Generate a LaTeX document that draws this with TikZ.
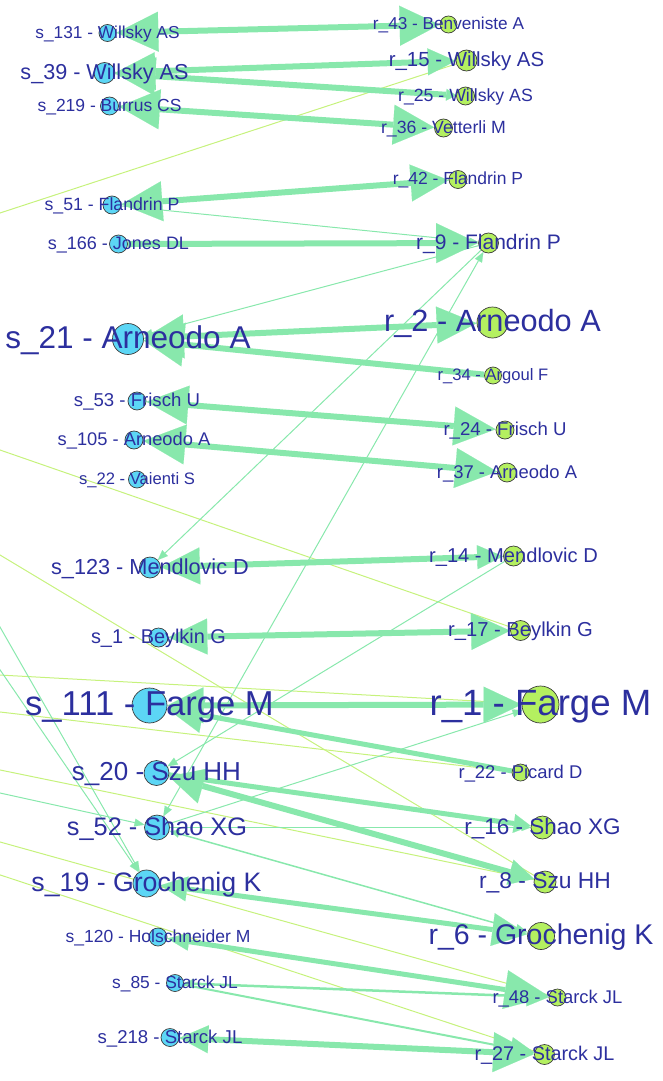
\documentclass[tikz,border=0pt]{standalone}
\usepackage{fontspec}
\setmainfont{Liberation Sans}
\usetikzlibrary{arrows.meta,backgrounds}
\definecolor{sfill}{RGB}{92,214,245}
\definecolor{rfill}{RGB}{180,240,96}
\definecolor{edg}{RGB}{136,232,172}
\definecolor{yel}{RGB}{198,242,124}
\definecolor{txt}{RGB}{44,47,158}
\definecolor{ring}{RGB}{60,60,60}
\tikzset{
  snode/.style={circle, draw=ring, line width=0.7pt, fill=sfill, inner sep=0pt},
  rnode/.style={circle, draw=ring, line width=0.7pt, fill=rfill, inner sep=0pt},
  lbl/.style={text=txt, anchor=base, inner sep=0pt},
  thk/.style={draw=edg, line width=6pt},
  thk5/.style={draw=edg, line width=5pt},
  med/.style={draw=edg, line width=2pt},
  thn/.style={draw=edg, line width=1pt},
  yl/.style={draw=yel, line width=1pt},
  bi/.style n args={4}{arrows={Triangle[length=#1pt,width=#2pt,line width=0.1pt]-Triangle[length=#3pt,width=#4pt,line width=0.1pt]}},
  ae/.style 2 args={arrows={-Triangle[length=#1pt,width=#2pt,line width=0.1pt]}}
}
\newcommand{\snd}[4]{\node[snode, minimum size=#4pt] (#1) at (#2,#3) {};}
\newcommand{\rnd}[4]{\node[rnode, minimum size=#4pt] (#1) at (#2,#3) {};}
\newcommand{\lab}[3]{\node[lbl, font=\fontsize{#2}{#2}\selectfont, yshift={-0.3*#2pt}] (#1l) at (#1) {#3};}
\begin{document}
\begin{tikzpicture}[x=1pt,y=-1pt]
\useasboundingbox (0,0) rectangle (662,1081);
% source nodes
\snd{s131}{107.5}{33}{17}
\snd{s39}{104.5}{73}{21}
\snd{s219}{109.5}{106}{18}
\snd{s51}{112}{205}{18}
\snd{s166}{118.5}{244}{18}
\snd{s21}{128}{339}{31}
\snd{s53}{137}{401}{18}
\snd{s105}{134}{440}{18}
\snd{s22}{137}{479.5}{17}
\snd{s123}{150}{567.5}{21}
\snd{s1}{158.5}{637.5}{19}
\snd{s111}{149.5}{705.5}{35}
\snd{s20}{156.5}{773}{25}
\snd{s52}{157}{827.5}{25}
\snd{s19}{146.5}{883.5}{27}
\snd{s120}{158}{937}{18}
\snd{s85}{175}{983}{17}
\snd{s218}{170}{1037.5}{18}
% reference nodes
\rnd{r43}{448.5}{24.5}{17}
\rnd{r15}{466.5}{60.5}{21}
\rnd{r25}{465.5}{96}{18}
\rnd{r36}{443.5}{128}{18}
\rnd{r42}{458}{179.5}{18}
\rnd{r9}{488.5}{243}{20}
\rnd{r2}{492.5}{322.5}{31}
\rnd{r34}{493}{375.5}{17}
\rnd{r24}{505}{430}{18}
\rnd{r37}{507}{472.5}{19}
\rnd{r14}{513.5}{556}{20}
\rnd{r17}{520.5}{630.5}{20}
\rnd{r1}{540.5}{704.5}{37}
\rnd{r22}{520.5}{772.5}{17}
\rnd{r16}{542.5}{827.5}{23}
\rnd{r8}{545}{882}{22}
\rnd{r6}{541}{936}{27}
\rnd{r48}{557.5}{997.5}{17}
\rnd{r27}{544.5}{1054.5}{20}
% off-canvas ends
\coordinate (y1) at (-30,222.8);
\coordinate (y2) at (-30,439.6);
\coordinate (y3) at (-30,537);
\coordinate (y4) at (-30,673.4);
\coordinate (y5) at (-30,708.5);
\coordinate (y6) at (-30,763.8);
\coordinate (y7) at (-30,833.6);
\coordinate (y8) at (-30,865);
\coordinate (m1) at (-30,574.5);
\coordinate (m2) at (-30,626);
\coordinate (m3) at (-30,786.4);
\begin{pgfonlayer}{background}
% thin yellow edges
\draw[yl] (y1) -- (r15);
\draw[yl] (y2) -- (r17);
\draw[yl] (y3) -- (r8);
\draw[yl] (y4) -- (r1);
\draw[yl] (y5) -- (r22);
\draw[yl] (y6) -- (r8);
\draw[yl] (y7) -- (r48);
\draw[yl] (y8) -- (r27);
% thin mint edges
\draw[thn, ae={10}{8}] (m1) -- (s19);
\draw[thn, ae={10}{8}] (m2) -- (s19);
\draw[thn, ae={10}{8}] (m3) -- (s52);
\draw[thn, ae={9}{7}] (s51) -- (r9);
\draw[thn, ae={9}{7}] (r9) -- (s21);
\draw[thn, ae={10}{8}] (r9) -- (s123);
\draw[thn, bi={10}{8}{10}{8}] (s52) -- (r9);
\draw[thn, ae={10}{8}] (r14) -- (s20);
\draw[thn, ae={10}{8}] (s52) -- (r1);
\draw[thn, ae={9}{7}] (s52) -- (r16);
\draw[med, line width=1.5pt, bi={10}{8}{12}{10}] (s52) -- (r6);
\draw[med, line width=2.5pt, bi={10}{10}{22}{20}] (s85) -- (r48);
\draw[med, ae={24}{22}] (s85) -- (r27);
% thick edges
\draw[thk, bi={42}{40}{40}{40}] (s131) -- (r43);
\draw[thk, bi={40}{38}{28}{27}] (s39) -- (r15);
\draw[thk, bi={40}{38}{10}{12}] (s39) -- (r25);
\draw[thk, bi={41}{40}{41}{40}] (s219) -- (r36);
\draw[thk, bi={41}{40}{38}{37}] (s51) -- (r42);
\draw[thk, ae={42}{40}] (s166) -- (r9);
\draw[thk, bi={40}{44}{40}{37}] (s21) -- (r2);
\draw[thk, ae={40}{44}] (r34) -- (s21);
\draw[thk, bi={42}{39}{42}{39}] (s53) -- (r24);
\draw[thk, bi={42}{40}{42}{40}] (s105) -- (r37);
\draw[thk, bi={39}{37}{26}{24}] (s123) -- (r14);
\draw[thk, bi={39}{36}{39}{37}] (s1) -- (r17);
\draw[thk, bi={36}{36}{38}{36}] (s111) -- (r1);
\draw[thk5, ae={36}{36}] (r22) -- (s111);
\draw[thk5, ae={17}{19}] (s20) -- (r16);
\draw[thk, bi={35}{36}{25}{26}] (s20) -- (r8);
\draw[thk5, bi={27}{25}{35}{33}] (s19) -- (r6);
\draw[thk5, bi={22}{18}{44}{39}] (s120) -- (r48);
\draw[thk, bi={29}{28}{41}{40}] (s218) -- (r27);
\end{pgfonlayer}
% labels
\lab{s131}{17.3}{s\_131 - Willsky AS}
\lab{s39}{21.6}{s\_39 - Willsky AS}
\lab{s219}{17.5}{s\_219 - Burrus CS}
\lab{s51}{17.7}{s\_51 - Flandrin P}
\lab{s166}{18}{s\_166 - Jones DL}
\lab{s21}{31.5}{s\_21 - Arneodo A}
\lab{s53}{18.6}{s\_53 - Frisch U}
\lab{s105}{18.3}{s\_105 - Arneodo A}
\lab{s22}{16.6}{s\_22 - Vaienti S}
\lab{s123}{21.7}{s\_123 - Mendlovic D}
\lab{s1}{19.9}{s\_1 - Beylkin G}
\lab{s111}{34.6}{s\_111 - Farge M}
\lab{s20}{26}{s\_20 - Szu HH}
\lab{s52}{25.3}{s\_52 - Shao XG}
\lab{s19}{26.7}{s\_19 - Grochenig K}
\lab{s120}{17.5}{s\_120 - Holschneider M}
\lab{s85}{17.4}{s\_85 - Starck JL}
\lab{s218}{18.6}{s\_218 - Starck JL}
\lab{r43}{17.2}{r\_43 - Benveniste A}
\lab{r15}{20.4}{r\_15 - Willsky AS}
\lab{r25}{17.7}{r\_25 - Willsky AS}
\lab{r36}{17.7}{r\_36 - Vetterli M}
\lab{r42}{17.5}{r\_42 - Flandrin P}
\lab{r9}{21}{r\_9 - Flandrin P}
\lab{r2}{30.7}{r\_2 - Arneodo A}
\lab{r34}{16.6}{r\_34 - Argoul F}
\lab{r24}{18.6}{r\_24 - Frisch U}
\lab{r37}{18.4}{r\_37 - Arneodo A}
\lab{r14}{20.1}{r\_14 - Mendlovic D}
\lab{r17}{20.2}{r\_17 - Beylkin G}
\lab{r1}{36.6}{r\_1 - Farge M}
\lab{r22}{18.4}{r\_22 - Picard D}
\lab{r16}{22.5}{r\_16 - Shao XG}
\lab{r8}{22.8}{r\_8 - Szu HH}
\lab{r6}{28.5}{r\_6 - Grochenig K}
\lab{r48}{18.4}{r\_48 - Starck JL}
\lab{r27}{19.8}{r\_27 - Starck JL}
\end{tikzpicture}
\end{document}
